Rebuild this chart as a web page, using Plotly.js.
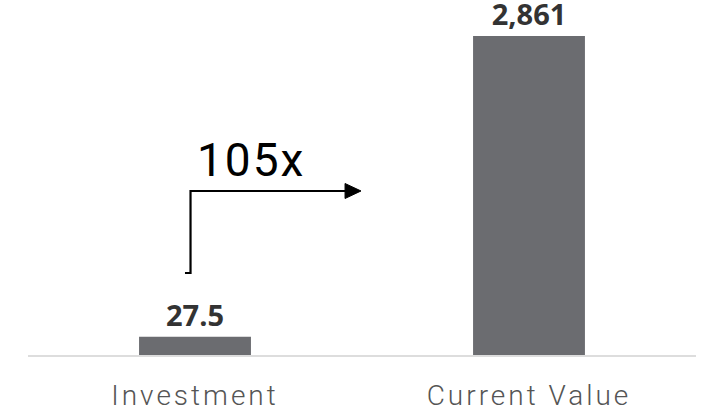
<!DOCTYPE html>
<html>
<head>
<meta charset="utf-8">
<script src="https://cdn.plot.ly/plotly-3.0.1.min.js"></script>
<style>
  html, body { margin: 0; padding: 0; background: #fff; }
  #chart { width: 706px; height: 414px; }
  #chart .xtick text { letter-spacing: 3px; }
  #chart .annotation-text { letter-spacing: 2px; }
</style>
</head>
<body>
<div id="chart"></div>
<script>
// Data
const categories = ["Investment", "Current Value"];
const values = [27.5, 2861];
const multipleLabel = "105x";

// Layout geometry
const W = 706, H = 414;
const M = { l: 28, r: 10, t: 20, b: 59 };
const PW = W - M.l - M.r, PH = H - M.t - M.b;
const px = x => (x - M.l) / PW;
const py = y => (H - M.b - y) / PH;
const P = (x, y) => px(x).toFixed(4) + "," + py(y).toFixed(4);

const trace = {
  type: "bar",
  x: categories,
  y: values,
  marker: { color: "#6b6c70" },
  texttemplate: "%{y:,}",
  textposition: "outside",
  constraintext: "none",
  textfont: { family: "Open Sans, sans-serif", size: 29, color: "#333333", weight: 700 },
  cliponaxis: false,
  hoverinfo: "none"
};

const layout = {
  width: W, height: H,
  margin: M,
  paper_bgcolor: "#ffffff",
  plot_bgcolor: "#ffffff",
  showlegend: false,
  bargap: 0.665,
  xaxis: {
    type: "category",
    showgrid: false,
    zeroline: false,
    showline: true,
    linecolor: "#dddddd",
    linewidth: 2,
    ticks: "",
    tickfont: { family: "Roboto, sans-serif", size: 28, color: "#555555", weight: 300 },
    ticklabelstandoff: 14
  },
  yaxis: {
    type: "log",
    range: [1.3166, 3.5644],
    visible: false,
    showgrid: false,
    zeroline: false
  },
  shapes: [
    {
      type: "path", xref: "paper", yref: "paper",
      path: "M " + P(185, 273) + " L " + P(190.5, 273) + " L " + P(190.5, 191) + " L " + P(347, 191),
      line: { color: "#000000", width: 2.2 }
    },
    {
      type: "path", xref: "paper", yref: "paper",
      path: "M " + P(345, 183.5) + " L " + P(361, 191) + " L " + P(345, 198.5) + " Z",
      fillcolor: "#000000",
      line: { color: "#000000", width: 1 }
    }
  ],
  annotations: [
    {
      xref: "paper", yref: "paper",
      x: px(199), y: py(189),
      xanchor: "left", yanchor: "bottom",
      text: multipleLabel,
      showarrow: false,
      font: { family: "Roboto, sans-serif", size: 46, color: "#000000", weight: 400 }
    }
  ]
};

Plotly.newPlot("chart", [trace], layout, { displayModeBar: false, staticPlot: true });
</script>
</body>
</html>
